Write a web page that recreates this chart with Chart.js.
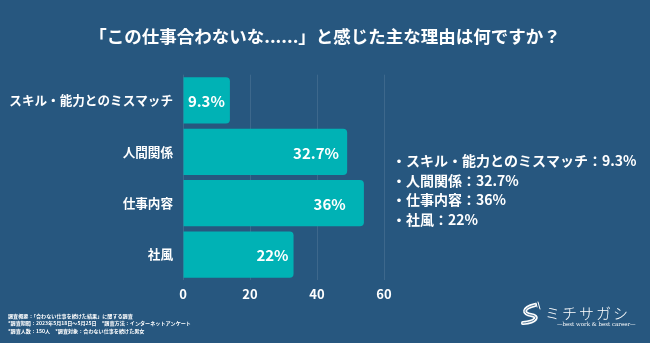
<!DOCTYPE html>
<html lang="ja">
<head>
<meta charset="utf-8">
<title>合わない仕事の理由</title>
<script src="https://cdn.jsdelivr.net/npm/chart.js@4.4.1/dist/chart.umd.min.js"></script>
<style>
  html, body { margin: 0; padding: 0; background: #27577f; }
  #wrap { width: 650px; height: 343px; }
</style>
</head>
<body>
<div id="wrap"><canvas id="chart" width="650" height="343"></canvas></div>
<script>
// --- データ ---
const titleText = "「この仕事合わないな......」と感じた主な理由は何ですか？";
const categories = ["スキル・能力とのミスマッチ", "人間関係", "仕事内容", "社風"];
const counts = [14, 49, 54, 33];                 // 回答数（150人中）
const percentLabels = ["9.3%", "32.7%", "36%", "22%"];
const xTicks = [0, 20, 40, 60];
const notes = [
  "調査概要：「合わない仕事を続けた結果」に関する調査",
  "*調査期間：2023年5月18日〜5月25日　*調査方法：インターネットアンケート",
  "*調査人数：150人　*調査対象：合わない仕事を続けた男女"
];
const brandName = "ミチサガシ";
const brandTag = "—best work & best career—";

const FONT = "'Noto Sans CJK JP', 'Noto Sans', sans-serif";
const BG = "#27577f";
const BAR = "#00b2b5";

function sel(id){ return document.getElementById(id); }

// バー内の％ラベル
const barLabels = {
  id: "barLabels",
  afterDatasetsDraw(chart){
    const ctx = chart.ctx;
    const meta = chart.getDatasetMeta(0);
    ctx.save();
    ctx.font = "bold 15px " + FONT;
    ctx.fillStyle = "#ffffff";
    ctx.textAlign = "center";
    ctx.textBaseline = "middle";
    meta.data.forEach((bar, i)=>{
      const txt = percentLabels[i];
      const w = ctx.measureText(txt).width;
      const len = bar.x - bar.base;
      const cx = Math.min(bar.base + len * 0.81, bar.x - 5 - w / 2);
      ctx.fillText(txt, cx, bar.y + 1);
    });
    ctx.restore();
  }
};

// タイトル・右側のまとめ・注記・ロゴ
const extras = {
  id: "extras",
  afterDraw(chart){
    const ctx = chart.ctx;
    ctx.save();
    ctx.fillStyle = "#ffffff";
    ctx.textBaseline = "middle";

    // title
    ctx.textAlign = "center";
    ctx.font = "bold 17.5px " + FONT;
    ctx.fillText(titleText, 325, 36);

    // summary list
    ctx.textAlign = "left";
    ctx.font = "bold 14px " + FONT;
    categories.forEach((c, i)=>{
      ctx.fillText("・" + c + "：" + percentLabels[i], 392, 161 + i * 19.5);
    });

    // notes
    ctx.font = "bold 5.1px " + FONT;
    notes.forEach((n, i)=> ctx.fillText(n, 8, 316 + i * 7.4));

    // logo
    ctx.font = "300 15px " + FONT;
    [...brandName].forEach((ch, i)=> ctx.fillText(ch, 545 + i * 17, 313));
    ctx.font = "5.5px 'DejaVu Serif', serif";
    ctx.fillText(brandTag, 557, 324.5);

    // road icon
    ctx.strokeStyle = "#ffffff";
    ctx.lineWidth = 4;
    ctx.lineCap = "round";
    ctx.beginPath();
    ctx.moveTo(535, 305);
    ctx.bezierCurveTo(522, 308, 523, 314, 531, 315);
    ctx.bezierCurveTo(539, 316, 537, 322, 523, 323);
    ctx.stroke();
    ctx.lineWidth = 1;
    ctx.beginPath();
    ctx.moveTo(538, 302); ctx.lineTo(540, 309);
    ctx.moveTo(536, 303); ctx.lineTo(537, 307);
    ctx.stroke();
    ctx.strokeStyle = BG;
    ctx.lineWidth = 0.8;
    ctx.beginPath();
    ctx.moveTo(535, 305);
    ctx.bezierCurveTo(522, 308, 523, 314, 531, 315);
    ctx.bezierCurveTo(539, 316, 537, 322, 523, 323);
    ctx.stroke();

    ctx.restore();
  }
};

const bgFill = {
  id: "bgFill",
  beforeDraw(chart){
    const ctx = chart.ctx;
    ctx.save();
    ctx.fillStyle = BG;
    ctx.fillRect(0, 0, chart.width, chart.height);
    ctx.restore();
  }
};

new Chart(sel("chart"), {
  type: "bar",
  data: {
    labels: categories,
    datasets: [{
      data: counts,
      backgroundColor: BAR,
      borderRadius: 4,
      barPercentage: 0.9,
      categoryPercentage: 1
    }]
  },
  options: {
    indexAxis: "y",
    responsive: false,
    animation: false,
    devicePixelRatio: 1,
    layout: { padding: { top: 74.7, right: 266, bottom: 37.7, left: 0 } },
    plugins: { legend: { display: false }, tooltip: { enabled: false } },
    scales: {
      x: {
        min: 0, max: 60,
        afterBuildTicks: (axis)=>{ axis.ticks = xTicks.map(v=>({ value: v })); },
        afterFit: (axis)=>{ axis.height = 25; },
        grid: { color: "rgba(255,255,255,0.10)", lineWidth: 1, drawTicks: false },
        border: { display: false },
        ticks: { color: "#ffffff", padding: 6, font: { family: FONT, size: 13, weight: "bold" } }
      },
      y: {
        afterFit: (axis)=>{ axis.width = 183; },
        grid: { display: false, drawTicks: false },
        border: { display: false },
        ticks: { color: "#ffffff", padding: 10, font: { family: FONT, size: 12.6, weight: "bold" } }
      }
    }
  },
  plugins: [bgFill, barLabels, extras]
});
</script>
</body>
</html>
